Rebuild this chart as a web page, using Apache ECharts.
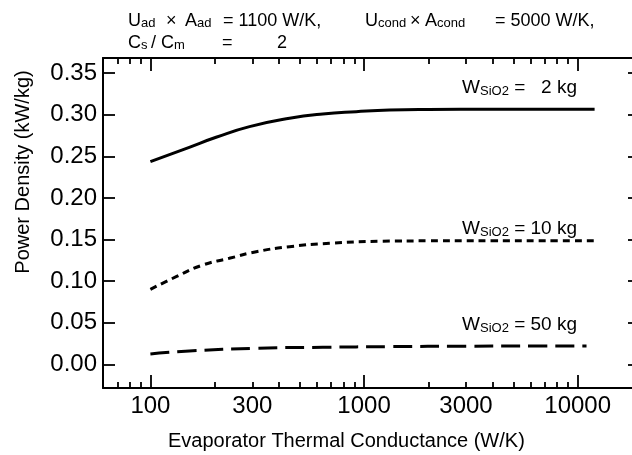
<!DOCTYPE html>
<html><head><meta charset="utf-8">
<script src="https://cdn.jsdelivr.net/npm/echarts@6/dist/echarts.min.js"></script>
<style>html,body{margin:0;padding:0;background:#fff}#c{width:632px;height:455px}</style>
</head><body><div id="c"></div>
<script>
// ---- data ----
const conductance2 = [100, 152, 203, 291, 448, 641, 918, 1316, 2000, 4000, 8000, 12000];
const density2 = [0.2435, 0.2608, 0.2728, 0.2856, 0.2956, 0.3008, 0.3036, 0.3056, 0.3062, 0.3064, 0.3064, 0.3064];
const conductance10 = [100, 132, 176, 234, 313, 448, 689, 1224, 2000, 4000, 8000, 12000];
const density10 = [0.0903, 0.1054, 0.1195, 0.1275, 0.1354, 0.1415, 0.1455, 0.1480, 0.1485, 0.1487, 0.1487, 0.1487];
const conductance50 = [100, 152, 313, 641, 1316, 3000, 6000, 11000];
const density50 = [0.0126, 0.0162, 0.0195, 0.0207, 0.0215, 0.0220, 0.0222, 0.0222];
const xLabelTicks = [100, 300, 1000, 3000, 10000];
const xMajorTicks = [100, 1000, 10000];
const xMinorTicks = [70, 80, 90, 200, 300, 400, 500, 600, 700, 800, 900, 2000, 3000, 4000, 5000, 6000, 7000, 8000, 9000];
const yTicks = [0, 0.05, 0.10, 0.15, 0.20, 0.25, 0.30, 0.35];
const xRange = [60, 20000];
const yRange = [-0.0282, 0.368];

const FONT = '"Liberation Sans", Arial, Helvetica, sans-serif';
const L = Math.log10;
const lmin = L(xRange[0]), lmax = L(xRange[1]);
const black = '#000';

function tickAxis(pos, values, len, showLine, labels) {
  return {
    type: 'value', position: pos, min: lmin, max: lmax,
    axisLine: { show: showLine, onZero: false, lineStyle: { color: black, width: 2 } },
    axisTick: { show: true, inside: true, length: len, customValues: values.map(L), lineStyle: { color: black, width: 1.8 } },
    axisLabel: labels ? {
      show: true, customValues: labels.map(L), margin: 6, color: black, fontSize: 24, fontFamily: FONT,
      formatter: v => String(Math.round(Math.pow(10, v)))
    } : { show: false },
    splitLine: { show: false }
  };
}

const chart = echarts.init(document.getElementById('c'), null, { renderer: 'canvas' });
const main18 = { fontSize: 18, fontFamily: FONT, fill: black };
const sub13 = { fontSize: 13, fontFamily: FONT, fill: black, verticalAlign: 'bottom' };
const main19 = { fontSize: 19, fontFamily: FONT, fill: black };

function rtext(x, y, text, align, big, small) {
  return { type: 'text', x: x, y: y, style: { text: text, align: align || 'left', verticalAlign: 'middle',
    rich: { b: big || main18, s: small || sub13 }, font: '18px ' + FONT, fill: black } };
}

chart.setOption({
  animation: false,
  backgroundColor: '#fff',
  grid: { left: 103, top: 58, right: -10, bottom: 67, containLabel: false, outerBoundsMode: 'none' },
  xAxis: [
    { type: 'log', min: xRange[0], max: xRange[1], show: false },
    tickAxis('bottom', xMajorTicks, 13, true, xLabelTicks),
    tickAxis('bottom', xMinorTicks, 6, false, null),
    tickAxis('top', xMajorTicks, 13, true, null),
    tickAxis('top', xMinorTicks, 6, false, null)
  ],
  yAxis: [
    { type: 'value', position: 'left', min: yRange[0], max: yRange[1],
      axisLine: { show: true, onZero: false, lineStyle: { color: black, width: 2 } },
      axisTick: { show: true, inside: true, length: 12, customValues: yTicks, lineStyle: { color: black, width: 1.8 } },
      axisLabel: { customValues: yTicks, margin: 6, color: black, fontSize: 24, fontFamily: FONT, formatter: v => v.toFixed(2) },
      splitLine: { show: false } },
    { type: 'value', position: 'right', min: yRange[0], max: yRange[1],
      axisLine: { show: true, onZero: false, lineStyle: { color: black, width: 2 } },
      axisTick: { show: true, inside: true, length: 14, customValues: yTicks, lineStyle: { color: black, width: 1.8 } },
      axisLabel: { show: false }, splitLine: { show: false } }
  ],
  series: [
    { type: 'line', xAxisIndex: 0, yAxisIndex: 0, smooth: true, symbol: 'none',
      data: conductance2.map((x, i) => [x, density2[i]]),
      lineStyle: { color: black, width: 3, type: 'solid' } },
    { type: 'line', xAxisIndex: 0, yAxisIndex: 0, smooth: true, symbol: 'none',
      data: conductance10.map((x, i) => [x, density10[i]]),
      lineStyle: { color: black, width: 3, type: [7, 5] } },
    { type: 'line', xAxisIndex: 0, yAxisIndex: 0, smooth: true, symbol: 'none',
      data: conductance50.map((x, i) => [x, density50[i]]),
      lineStyle: { color: black, width: 3, type: [19, 8] } }
  ],
  graphic: [
    rtext(128, 21, '{b|U}{s|ad}'),
    rtext(166, 21, '{b|×}'),
    rtext(185, 21, '{b|A}{s|ad}'),
    rtext(223, 21, '{b|= 1100 W/K,}'),
    rtext(365, 21, '{b|U}{s|cond}'),
    rtext(410, 21, '{b|×}'),
    rtext(425, 21, '{b|A}{s|cond}'),
    rtext(495, 21, '{b|= 5000 W/K,}'),
    rtext(128, 43, '{b|C}{s|s}'),
    rtext(151, 43, '{b|/}'),
    rtext(161, 43, '{b|C}{s|m}'),
    rtext(222, 43, '{b|=}'),
    rtext(277, 43, '{b|2}'),
    rtext(577, 88, '{b|W}{s|SiO2}{b| =   2 kg}', 'right', main19, sub13),
    rtext(577, 229, '{b|W}{s|SiO2}{b| = 10 kg}', 'right', main19, sub13),
    rtext(577, 325, '{b|W}{s|SiO2}{b| = 50 kg}', 'right', main19, sub13),
    { type: 'text', x: 23, y: 172, rotation: Math.PI / 2,
      style: { text: 'Power Density (kW/kg)', align: 'center', verticalAlign: 'middle', font: '20px ' + FONT, fill: black } },
    { type: 'text', x: 168, y: 441,
      style: { text: 'Evaporator Thermal Conductance (W/K)', align: 'left', verticalAlign: 'middle', font: '20px ' + FONT, fill: black } }
  ]
});
</script></body></html>
